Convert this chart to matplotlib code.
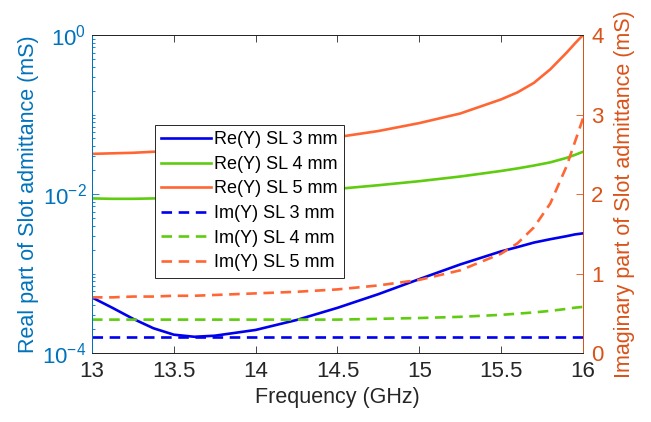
import matplotlib
matplotlib.use("Agg")
import matplotlib.pyplot as plt
from matplotlib.ticker import FixedLocator, LogLocator, NullFormatter

plt.rcParams['font.family'] = ['Liberation Sans', 'DejaVu Sans']
plt.rcParams['mathtext.default'] = 'regular'

freq = [13, 13.125, 13.25, 13.375, 13.5, 13.625, 13.75, 14, 14.25, 14.5,
        14.75, 15, 15.25, 15.5, 15.6, 15.7, 15.8, 15.9, 15.95, 16]

# real part (mS), log scale
re_3mm = [5.0e-4, 3.7e-4, 2.7e-4, 2.05e-4, 1.7e-4, 1.6e-4, 1.65e-4, 1.95e-4, 2.6e-4, 3.7e-4,
          5.5e-4, 8.5e-4, 1.3e-3, 1.9e-3, 2.15e-3, 2.45e-3, 2.7e-3, 2.95e-3, 3.1e-3, 3.2e-3]
re_4mm = [0.0088, 0.0087, 0.0087, 0.0088, 0.0089, 0.0091, 0.0093, 0.0099, 0.0106, 0.0116,
          0.0129, 0.0145, 0.0166, 0.0195, 0.021, 0.0228, 0.025, 0.0285, 0.031, 0.034]
re_5mm = [0.032, 0.0325, 0.033, 0.034, 0.035, 0.0365, 0.038, 0.041, 0.045, 0.052,
          0.062, 0.078, 0.103, 0.155, 0.19, 0.25, 0.37, 0.60, 0.78, 1.0]

# imaginary part (mS), linear scale
im_3mm = [0.20, 0.20, 0.20, 0.20, 0.20, 0.20, 0.20, 0.20, 0.20, 0.20,
          0.20, 0.20, 0.20, 0.20, 0.20, 0.20, 0.20, 0.20, 0.20, 0.20]
im_4mm = [0.42, 0.42, 0.42, 0.42, 0.42, 0.42, 0.42, 0.42, 0.42, 0.42,
          0.43, 0.44, 0.455, 0.48, 0.495, 0.51, 0.53, 0.555, 0.57, 0.58]
im_5mm = [0.70, 0.70, 0.71, 0.71, 0.72, 0.72, 0.73, 0.75, 0.77, 0.80,
          0.85, 0.92, 1.04, 1.25, 1.38, 1.58, 1.88, 2.35, 2.65, 2.95]

labels = ['Re(Y) SL 3 mm', 'Re(Y) SL 4 mm', 'Re(Y) SL 5 mm',
          'Im(Y) SL 3 mm', 'Im(Y) SL 4 mm', 'Im(Y) SL 5 mm']
x_ticks = [13, 13.5, 14, 14.5, 15, 15.5, 16]

c_blue = '#0000EE'
c_green = '#5FCC10'
c_orange = '#FF6633'
c_left = '#0072BD'
c_right = '#D95319'

fig = plt.figure(figsize=(6.51, 4.22), dpi=100)
ax = fig.add_axes([0.1413, 0.1635, 0.7542, 0.7535])
ax2 = ax.twinx()

lw = 1.9
dash = (4, 2.5)
h1, = ax.semilogy(freq, re_3mm, color=c_blue, lw=lw)
h2, = ax.semilogy(freq, re_4mm, color=c_green, lw=lw)
h3, = ax.semilogy(freq, re_5mm, color=c_orange, lw=lw)
h4, = ax2.plot(freq, im_3mm, color=c_blue, lw=lw, dashes=dash)
h5, = ax2.plot(freq, im_4mm, color=c_green, lw=lw, dashes=dash)
h6, = ax2.plot(freq, im_5mm, color=c_orange, lw=lw, dashes=dash)

ax.set_xlim(13, 16)
ax.set_ylim(1e-4, 1)
ax2.set_ylim(0, 4)

ax.set_xticks(x_ticks)
ax.set_xticklabels(['13', '13.5', '14', '14.5', '15', '15.5', '16'])
ax.yaxis.set_major_locator(FixedLocator([1e-4, 1e-2, 1]))
ax.set_yticklabels(['$10^{-4}$', '$10^{-2}$', '$10^{0}$'])
ax.yaxis.set_minor_locator(LogLocator(base=10, subs=range(1, 10), numticks=20))
ax.yaxis.set_minor_formatter(NullFormatter())
ax2.set_yticks([0, 1, 2, 3, 4])

ax.tick_params(axis='x', direction='in', top=True, length=5, width=0.6,
               colors='#262626', labelsize=16, pad=6)
ax.tick_params(axis='y', which='both', direction='in', colors=c_left, labelsize=16, width=0.6, pad=4)
ax.tick_params(axis='y', which='major', length=5)
ax.tick_params(axis='y', which='minor', length=2.5)
ax2.tick_params(axis='y', direction='in', colors=c_right, labelsize=16, length=5, width=0.6, pad=6)

for a in (ax, ax2):
    a.spines['top'].set_color('#262626')
    a.spines['bottom'].set_color('#262626')
    a.spines['left'].set_color(c_left)
    a.spines['right'].set_color(c_right)
    for s in a.spines.values():
        s.set_linewidth(0.7)

ax.set_xlabel('Frequency (GHz)', fontsize=15.5, color='#262626', labelpad=3)
ax.set_ylabel('Real part of Slot admittance (mS)', fontsize=15.5, color=c_left, labelpad=2)
ax2.set_ylabel('Imaginary part of Slot admittance (mS)', fontsize=15.5, color=c_right, labelpad=7)

leg = ax2.legend([h1, h2, h3, h4, h5, h6], labels, loc='upper left',
                 bbox_to_anchor=(155 / 651, 1 - 125 / 422), bbox_transform=fig.transFigure,
                 fontsize=13, fancybox=False, handlelength=2.75, handletextpad=0.15,
                 labelspacing=0.42, borderpad=0.35, borderaxespad=0, framealpha=1)
leg.get_frame().set_edgecolor('#262626')
leg.get_frame().set_linewidth(0.7)

fig.savefig('out.png', dpi=100)
